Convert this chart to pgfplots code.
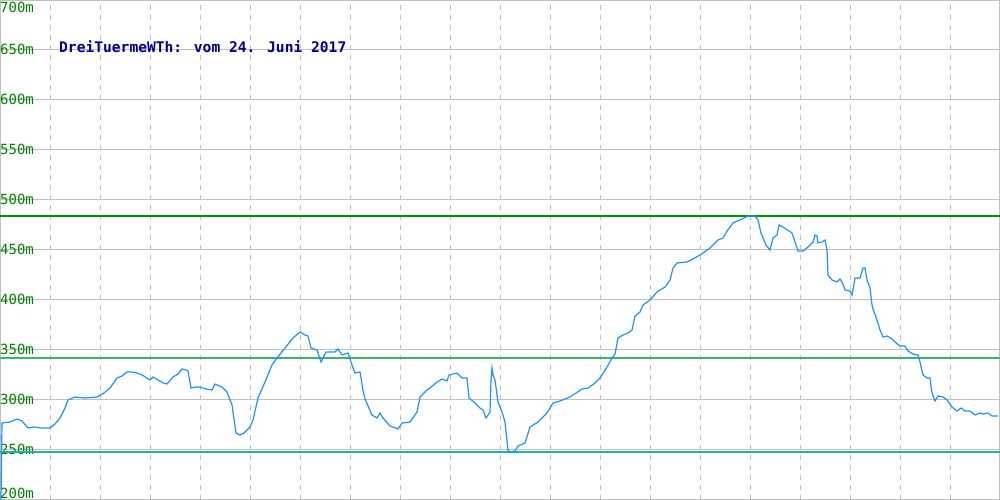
\documentclass[border=0pt]{standalone}
\usepackage{pgfplots}
\pgfplotsset{compat=1.18}
\usepackage{fontspec}
\newfontfamily\mono{DejaVu Sans Mono}
\definecolor{gridc}{RGB}{192,192,192}
\definecolor{labgreen}{RGB}{0,128,0}
\definecolor{topgreen}{RGB}{0,150,0}
\definecolor{midgreen}{RGB}{60,179,113}
\definecolor{lowteal}{RGB}{32,178,170}
\definecolor{curvec}{RGB}{30,144,255}
\definecolor{titleblue}{RGB}{0,0,140}
\begin{document}
\begin{tikzpicture}
\begin{axis}[
  width=1000pt, height=500pt, scale only axis,
  at={(0,0)}, anchor=south west,
  xmin=0, xmax=1000, ymin=200, ymax=700,
  axis line style={draw=gridc, line width=2pt},
  xtick={50,100,...,950}, xticklabels={},
  ytick={250,300,...,650},
  yticklabels={250m,300m,350m,400m,450m,500m,550m,600m,650m},
  yticklabel style={anchor=base west, inner sep=0pt, yshift=-4.5pt,
    font=\mono\fontsize{14}{15}\selectfont, text=labgreen},
  major tick length=0pt,
  xmajorgrids, ymajorgrids,
  major x grid style={draw=gridc, line width=1pt, dash pattern=on 5pt off 5pt},
  major y grid style={draw=gridc, line width=1pt, solid},
]
\addplot[draw=topgreen, line width=1.2pt, mark=none] coordinates {(0,484) (1000,484)};
\addplot[draw=midgreen, line width=1.2pt, mark=none] coordinates {(0,342) (1000,342)};
\addplot[draw=lowteal, line width=1.2pt, mark=none] coordinates {(0,248) (1000,248)};
\addplot[draw=curvec, line width=1.2pt, mark=none] coordinates {
(1,200) (2,277) (10,278) (17,281) (22,279) (28,272) (35,273) (40,272) (50,272)
(55,276) (60,282) (65,292) (68,300) (75,303) (85,302) (97,303) (104,307) (110,312)
(117,322) (122,324) (127,328) (132,328) (137,327) (142,325) (147,322) (150,320)
(153,323) (158,320) (163,317) (167,316) (173,323) (178,326) (182,331) (186,330)
(188,329) (191,312) (196,313) (200,313) (206,311) (212,310) (215,316) (222,313)
(227,308) (232,295) (236,267) (240,265) (244,267) (247,270) (250,273) (253,280)
(258,302) (265,318) (272,335) (277,342) (285,352) (293,362) (300,368) (305,365)
(308,364) (311,352) (317,350) (321,338) (326,348) (335,348) (338,351) (342,345)
(348,347) (352,335) (355,327) (360,328) (363,310) (365,301) (369,292) (372,285)
(377,282) (380,287) (383,282) (390,274) (398,271) (402,277) (410,278) (417,288)
(420,303) (427,310) (430,312) (437,318) (442,321) (447,319) (449,325) (457,327)
(462,322) (467,322) (469,302) (475,297) (480,292) (483,290) (486,282) (490,288)
(491,320) (492,332) (493,325) (495,320) (498,298) (502,288) (505,278) (508,250)
(510,248) (515,249) (518,254) (525,257) (530,273) (538,278) (547,287) (553,297)
(560,299) (570,303) (582,311) (588,312) (595,317) (600,322) (607,333) (612,342)
(615,346) (618,362) (623,365) (628,367) (632,370) (635,384) (640,388) (643,395)
(650,400) (657,408) (665,413) (670,420) (673,432) (677,437) (687,438) (693,441)
(700,445) (710,452) (718,460) (723,462) (727,469) (733,477) (742,481) (748,484)
(755,484) (758,480) (761,467) (766,455) (770,450) (773,462) (777,465) (779,475)
(783,473) (792,467) (795,458) (798,449) (803,449) (808,453) (813,458) (815,465)
(817,464) (818,457) (822,458) (825,460) (827,450) (828,425) (832,420) (837,418)
(840,421) (842,418) (845,410) (850,409) (852,405) (855,422) (860,422) (863,432)
(865,432) (867,420) (870,412) (872,395) (873,391) (877,380) (880,370) (883,363)
(887,364) (892,361) (895,358) (900,354) (905,354) (908,349) (913,346) (918,345)
(920,338) (923,325) (927,322) (930,322) (932,307) (935,299) (938,304) (943,303)
(947,300) (952,293) (957,289) (961,292) (965,289) (970,289) (975,285) (980,287)
(983,286) (988,287) (992,284) (998,284)
};
\node[anchor=base west, inner sep=0pt, font=\mono\fontsize{14}{15}\selectfont, text=labgreen] at (axis cs:0,687) {700m};
\node[anchor=base west, inner sep=0pt, font=\mono\fontsize{14}{15}\selectfont, text=labgreen] at (axis cs:0,201.5) {200m};
\node[anchor=base west, inner sep=0pt, font=\mono\bfseries\fontsize{14.6}{16}\selectfont, text=titleblue] at (axis cs:59,647) {DreiTuermeWTh: vom 24. Juni 2017};
\end{axis}
\pgfresetboundingbox
\path (current axis.south west) rectangle (current axis.north east);
\end{tikzpicture}
\end{document}
